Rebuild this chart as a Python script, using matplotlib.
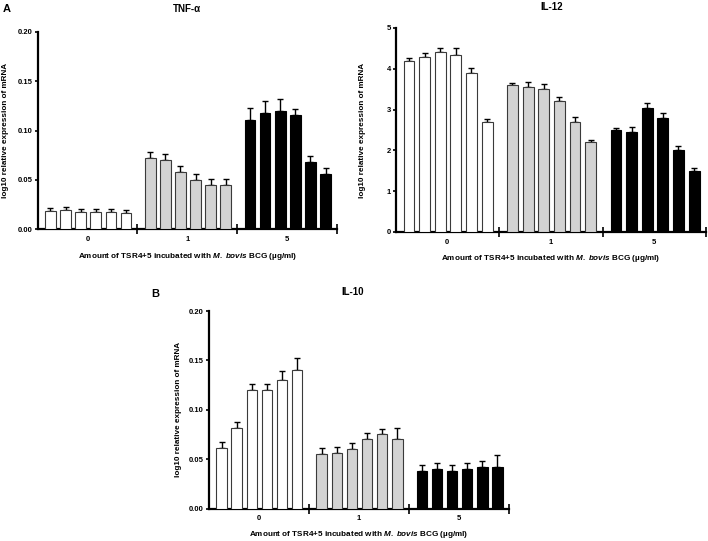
import matplotlib
matplotlib.use("Agg")
import matplotlib.pyplot as plt
import numpy as np

plt.rcParams['font.family'] = ['Liberation Sans', 'DejaVu Sans']
plt.rcParams['mathtext.fontset'] = 'custom'
plt.rcParams['mathtext.it'] = 'Liberation Sans:italic:bold'
plt.rcParams['mathtext.rm'] = 'Liberation Sans:bold'

groups = ["0", "1", "5"]
group_colors = ["white", "#d3d3d3", "black"]

tnf_vals = [[0.018, 0.019, 0.017, 0.017, 0.017, 0.016],
            [0.072, 0.070, 0.058, 0.050, 0.045, 0.045],
            [0.111, 0.118, 0.120, 0.116, 0.068, 0.056]]
tnf_err = [[0.003, 0.003, 0.003, 0.003, 0.003, 0.003],
           [0.006, 0.006, 0.006, 0.006, 0.006, 0.006],
           [0.012, 0.012, 0.012, 0.006, 0.006, 0.006]]

il12_vals = [[4.20, 4.30, 4.40, 4.35, 3.90, 2.70],
             [3.60, 3.55, 3.50, 3.20, 2.70, 2.20],
             [2.50, 2.45, 3.05, 2.80, 2.00, 1.50]]
il12_err = [[0.06, 0.08, 0.12, 0.15, 0.12, 0.06],
            [0.06, 0.13, 0.12, 0.12, 0.12, 0.06],
            [0.06, 0.12, 0.12, 0.12, 0.12, 0.06]]

il10_vals = [[0.061, 0.082, 0.120, 0.120, 0.130, 0.140],
             [0.055, 0.056, 0.060, 0.070, 0.075, 0.070],
             [0.038, 0.040, 0.038, 0.040, 0.042, 0.042]]
il10_err = [[0.006, 0.006, 0.006, 0.006, 0.009, 0.012],
            [0.006, 0.006, 0.006, 0.006, 0.006, 0.012],
            [0.006, 0.006, 0.006, 0.006, 0.006, 0.012]]

tnf_yticks = [0.00, 0.05, 0.10, 0.15, 0.20]
tnf_yticklabels = ["0.00", "0.05", "0.10", "0.15", "0.20"]
il12_yticks = [0, 1, 2, 3, 4, 5]
il12_yticklabels = ["0", "1", "2", "3", "4", "5"]
il10_yticks = tnf_yticks
il10_yticklabels = tnf_yticklabels

ylabel = "log10 relative expression of mRNA"
xlabel = r"Amount of TSR4+5 incubated with $\mathit{M.}$ $\mathit{bovis}$ BCG (µg/ml)"

W, H = 708, 541
fig = plt.figure(figsize=(W / 100, H / 100), dpi=100)


def rect(left, right, top, bottom):
    return [left / W, 1 - bottom / H, (right - left) / W, (bottom - top) / H]


FS = 5.5
LFS = 5.9


def panel(r, vals, errs, yticks, yticklabels, title, title_xy, ylab_x, xlab_y):
    ax = fig.add_axes(r)
    for g in range(3):
        n = len(vals[g])
        xs = g + 0.13 + np.arange(n) * 0.151
        ax.bar(xs, vals[g], width=0.105, color=group_colors[g],
               edgecolor="#3a3a3a" if g < 2 else "black", linewidth=0.8, zorder=3)
        ax.errorbar(xs, vals[g], yerr=[np.zeros(n), errs[g]], fmt='none',
                    ecolor='black', elinewidth=1.0, capsize=2.2, capthick=1.0, zorder=2)
    ax.set_xlim(0, 3)
    ax.set_ylim(yticks[0], yticks[-1])
    ax.set_yticks(yticks)
    ax.set_yticklabels(yticklabels, fontsize=FS, fontweight='bold')
    ax.set_xticks([1, 2, 3])
    ax.set_xticklabels([])
    ax.set_xticks([0.5, 1.5, 2.5], minor=True)
    ax.set_xticklabels(groups, minor=True, fontsize=FS, fontweight='bold')
    ax.tick_params(axis='x', which='major', direction='inout', length=7, width=1.2)
    ax.tick_params(axis='x', which='minor', length=0, pad=5)
    ax.tick_params(axis='y', direction='out', length=2.5, width=1.2, pad=1)
    for s in ['top', 'right']:
        ax.spines[s].set_visible(False)
    for s in ['left', 'bottom']:
        ax.spines[s].set_linewidth(1.6)
    ax.set_ylabel(ylabel, fontsize=LFS, fontweight='bold')
    ax.yaxis.set_label_coords(ylab_x, 0.5)
    ax.text(0.5, xlab_y, xlabel, transform=ax.transAxes, ha='center', va='center',
            fontsize=LFS, fontweight='bold')
    fig.text(title_xy[0] / W, 1 - title_xy[1] / H, title, ha='center', va='center',
             fontsize=7, fontweight='bold')
    return ax


panel(rect(37.5, 337, 32, 229), tnf_vals, tnf_err, tnf_yticks, tnf_yticklabels,
      "TNF-α", (187, 9), -0.095, -(257 - 229) / 197)
panel(rect(395.5, 706, 28, 232), il12_vals, il12_err, il12_yticks, il12_yticklabels,
      "IL-12", (552, 7), -0.095, -(258 - 232) / 204)
panel(rect(208.5, 509, 311, 508.5), il10_vals, il10_err, il10_yticks, il10_yticklabels,
      "IL-10", (353, 292), -0.088, -(534 - 508.5) / 197.5)

fig.text(7 / W, 1 - 9 / H, "A", ha='center', va='center', fontsize=8, fontweight='bold')
fig.text(155 / W, 1 - 294 / H, "B", ha='center', va='center', fontsize=8, fontweight='bold')

fig.savefig("out.png", dpi=100)
